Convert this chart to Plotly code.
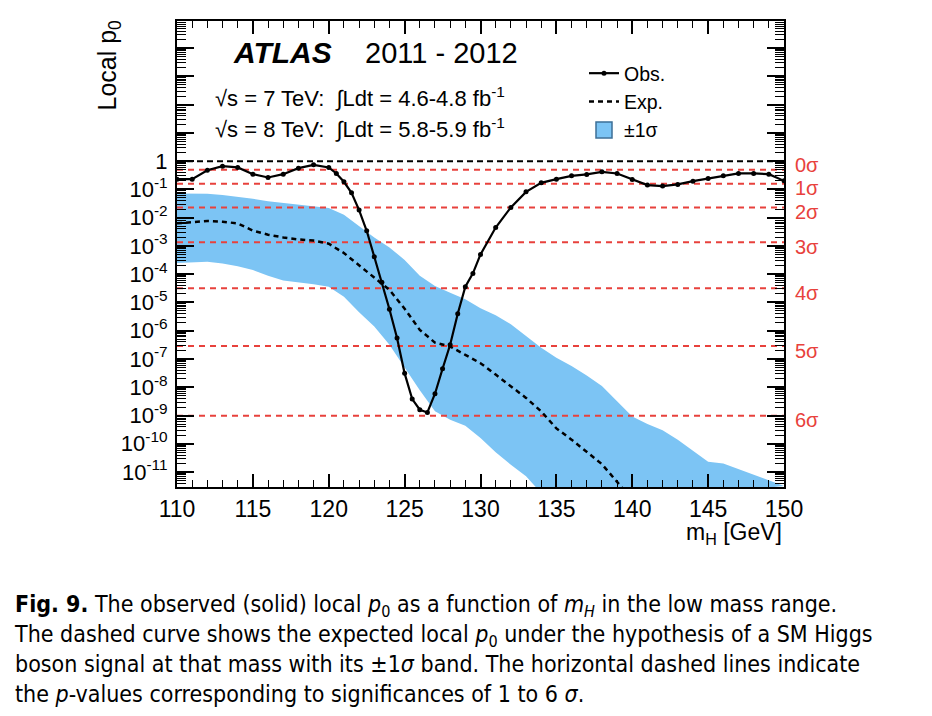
import math
import plotly.graph_objects as go

# ---------------- data ----------------
mass_obs = [110, 111, 112, 113, 114, 115, 116, 117, 118, 119, 120,
            120.5, 121, 121.5, 122, 122.5, 123, 123.5, 124, 124.5, 125,
            125.5, 126, 126.5, 127, 127.5, 128, 128.5, 129, 129.5, 130,
            131, 132, 133, 134, 135, 136, 137, 138, 139, 140,
            141, 142, 143, 144, 145, 146, 147, 148, 149, 150]
p_obs = [0.231, 0.231, 0.48, 0.665, 0.60, 0.347, 0.265, 0.347, 0.566, 0.74, 0.60,
         0.367, 0.186, 0.0758, 0.0186, 3.44e-3, 4.15e-4, 5.16e-5, 5.75e-6, 5.57e-7, 3.1e-8,
         3.8e-9, 1.6e-9, 1.28e-9, 5.9e-9, 4.5e-8, 3.2e-7, 4.0e-6, 3.6e-5, 1.07e-4, 5.0e-4,
         4.5e-3, 0.0231, 0.082, 0.171, 0.231, 0.303, 0.339, 0.419, 0.367, 0.226,
         0.142, 0.131, 0.150, 0.196, 0.245, 0.303, 0.367, 0.367, 0.347, 0.201]

mass_exp = [110, 111, 112, 113, 114, 115, 116, 117, 118, 119, 120,
            121, 122, 123, 124, 125, 126, 127, 128, 129, 130,
            131, 132, 133, 134, 135, 136, 137, 138, 139, 140]
p_exp = [6.3e-3, 7.1e-3, 7.6e-3, 7.2e-3, 6.3e-3, 3.5e-3, 2.5e-3, 2.0e-3, 1.7e-3, 1.55e-3, 1.2e-3,
         5.6e-4, 2.1e-4, 7.9e-5, 2.8e-5, 6.0e-6, 1.07e-6, 3.8e-7, 2.75e-7, 1.4e-7, 7.1e-8,
         2.8e-8, 1.05e-8, 4.2e-9, 1.4e-9, 3.5e-10, 1.4e-10, 5.0e-11, 1.9e-11, 4.5e-12, 1.0e-12]

mass_band_hi = [110, 111, 112, 113, 114, 115, 116, 117, 118, 119, 120,
                121, 122, 123, 124, 125, 126, 127, 128, 129, 130,
                131, 132, 133, 134, 135, 136, 137, 138, 139, 140,
                141, 142, 143, 144, 145, 146, 147, 148, 149, 150]
p_band_hi = [0.072, 0.072, 0.071, 0.063, 0.055, 0.047, 0.038, 0.033, 0.030, 0.026, 0.022,
             0.0126, 5.0e-3, 2.0e-3, 8.9e-4, 3.2e-4, 8.9e-5, 3.8e-5, 2.2e-5, 1.3e-5, 6.3e-6,
             3.5e-6, 1.7e-6, 6.3e-7, 2.5e-7, 1.1e-7, 5.6e-8, 2.6e-8, 1.1e-8, 3.2e-9, 9.3e-10,
             5.0e-10, 3.0e-10, 1.4e-10, 5.6e-11, 2.3e-11, 2.0e-11, 1.26e-11, 7.9e-12, 5.0e-12, 3.2e-12]

mass_band_lo = [110, 111, 112, 113, 114, 115, 116, 117, 118, 119, 120,
                121, 122, 123, 124, 125, 126, 127, 128, 129, 130,
                131, 132, 133, 134, 135]
p_band_lo = [2.5e-4, 2.6e-4, 2.75e-4, 2.4e-4, 1.9e-4, 1.4e-4, 8.9e-5, 6.0e-5, 5.0e-5, 4.4e-5, 3.6e-5,
             1.6e-5, 4.5e-6, 1.4e-6, 3.2e-7, 5.0e-8, 7.9e-9, 1.4e-9, 7.1e-10, 4.3e-10, 1.6e-10,
             5.0e-11, 1.8e-11, 7.1e-12, 1.8e-12, 5.0e-13]

sigma_labels = ["0σ", "1σ", "2σ", "3σ", "4σ", "5σ", "6σ"]
sigma_p = [0.5, 0.1587, 0.02275, 1.35e-3, 3.17e-5, 2.87e-7, 9.87e-10]
sigma_label_shift = [5, -4, -4, -5, -5, -5, -4]

ytick_exp = [4, 3, 2, 1, 0, -1, -2, -3, -4, -5, -6, -7, -8, -9, -10, -11]
xtick_vals = [110, 115, 120, 125, 130, 135, 140, 145, 150]

caption_lines = [
    "<b>Fig. 9.</b> The observed (solid) local <i>p</i><sub>0</sub> as a function of <i>m<sub>H</sub></i> in the low mass range.",
    "The dashed curve shows the expected local <i>p</i><sub>0</sub> under the hypothesis of a SM Higgs",
    "boson signal at that mass with its ±1<i>σ</i> band. The horizontal dashed lines indicate",
    "the <i>p</i>-values corresponding to significances of 1 to 6 <i>σ</i>.",
]

# ---------------- style ----------------
FONT = "Liberation Sans, Arial, Helvetica, sans-serif"
CAPFONT = "Liberation Sans Narrow, DejaVu Sans Condensed, Liberation Sans, sans-serif"
BAND = "#7cc4f4"
RED = "#e8413c"
W, H = 932, 716
ML, MR, MT, MB = 177, 148, 21, 229
PW, PH = W - ML - MR, H - MT - MB


def px_x(px):
    return (px - ML) / PW


def px_y(py):
    return (H - MB - py) / PH


fig = go.Figure()

# band polygon
fig.add_trace(go.Scatter(
    x=mass_band_hi + mass_band_lo[::-1],
    y=p_band_hi + p_band_lo[::-1],
    fill="toself", fillcolor=BAND, mode="lines",
    line=dict(width=0, color=BAND), hoverinfo="skip", showlegend=False))

# p=1 line (black dashed) and sigma lines (red dashed)
fig.add_trace(go.Scatter(x=[110, 150], y=[1, 1], mode="lines",
                         line=dict(color="black", width=2, dash="6px,4px"),
                         showlegend=False, hoverinfo="skip"))
for p in sigma_p:
    fig.add_trace(go.Scatter(x=[110, 150], y=[p, p], mode="lines",
                             line=dict(color=RED, width=2, dash="6px,5px"),
                             showlegend=False, hoverinfo="skip"))

fig.add_trace(go.Scatter(x=mass_exp, y=p_exp, mode="lines", name="Exp.",
                         line=dict(color="black", width=2.5, dash="5px,4px"),
                         legendrank=2))
fig.add_trace(go.Scatter(x=mass_obs, y=p_obs, mode="lines+markers", name="Obs.",
                         line=dict(color="black", width=2.2),
                         marker=dict(color="black", size=5),
                         legendrank=1))
fig.add_trace(go.Scatter(x=[None], y=[None], mode="markers", name="±1σ",
                         marker=dict(symbol="square", size=16, color=BAND,
                                     line=dict(color="#3d6f96", width=1.5)),
                         legendrank=3))

minor_vals = [k * 10.0 ** e for e in range(-12, 5) for k in range(2, 10)]

fig.update_xaxes(
    range=[110, 150], tickmode="array", tickvals=xtick_vals,
    ticks="inside", ticklen=13, tickwidth=1.5, tickcolor="black",
    minor=dict(ticks="inside", ticklen=7, tickwidth=1.2, tickcolor="black", dtick=1, tick0=110),
    showline=True, linecolor="black", linewidth=2, mirror="allticks",
    showgrid=False, zeroline=False,
    tickfont=dict(family=FONT, size=23, color="black"),
)
fig.update_yaxes(
    type="log", range=[-11.53, 4.96], tickmode="array",
    tickvals=[10.0 ** e for e in ytick_exp],
    ticktext=["" if e > 0 else ("1" if e == 0 else "10<sup>%d</sup>" % e) for e in ytick_exp],
    ticks="inside", ticklen=17, tickwidth=1.5, tickcolor="black",
    minor=dict(ticks="inside", ticklen=9, tickwidth=1.2, tickcolor="black",
               tickmode="array", tickvals=minor_vals),
    showline=True, linecolor="black", linewidth=2, mirror="allticks",
    showgrid=False, zeroline=False, ticklabelstandoff=3,
    tickfont=dict(family=FONT, size=22, color="black"),
)

ann = []
ann.append(dict(text="<b><i>ATLAS</i></b>", x=px_x(231), y=px_y(52), xref="paper", yref="paper",
                xanchor="left", yanchor="middle", showarrow=False,
                font=dict(family=FONT, size=30, color="black")))
ann.append(dict(text="2011 - 2012", x=px_x(363), y=px_y(53), xref="paper", yref="paper",
                xanchor="left", yanchor="middle", showarrow=False,
                font=dict(family=FONT, size=29, color="black")))
ann.append(dict(text="√s = 7 TeV:  ∫Ldt = 4.6-4.8 fb<sup>-1</sup>", x=px_x(213), y=px_y(97),
                xref="paper", yref="paper", xanchor="left", yanchor="middle", showarrow=False,
                font=dict(family=FONT, size=22, color="black")))
ann.append(dict(text="√s = 8 TeV:  ∫Ldt = 5.8-5.9 fb<sup>-1</sup>", x=px_x(213), y=px_y(128),
                xref="paper", yref="paper", xanchor="left", yanchor="middle", showarrow=False,
                font=dict(family=FONT, size=22, color="black")))
ann.append(dict(text="Local p<sub>0</sub>", x=px_x(108), y=px_y(18), xref="paper", yref="paper",
                xanchor="center", yanchor="top", textangle=-90, showarrow=False,
                font=dict(family=FONT, size=25, color="black")))
ann.append(dict(text="m<sub>H</sub> [GeV]", x=px_x(784), y=px_y(533), xref="paper", yref="paper",
                xanchor="right", yanchor="middle", showarrow=False,
                font=dict(family=FONT, size=23, color="black")))
for lab, p, sh in zip(sigma_labels, sigma_p, sigma_label_shift):
    ann.append(dict(text=lab, x=px_x(793), y=math.log10(p), xref="paper", yref="y",
                    xanchor="left", yanchor="middle", yshift=sh, showarrow=False,
                    font=dict(family=FONT, size=20, color=RED)))
ann.append(dict(text="<br>".join(caption_lines), x=px_x(12), y=px_y(589), xref="paper", yref="paper",
                xanchor="left", yanchor="top", align="left", showarrow=False,
                font=dict(family=CAPFONT, size=23, color="black")))

fig.update_layout(
    width=W, height=H, margin=dict(l=ML, r=MR, t=MT, b=MB),
    paper_bgcolor="white", plot_bgcolor="white",
    annotations=ann,
    legend=dict(x=px_x(584), y=px_y(54), xanchor="left", yanchor="top",
                bgcolor="rgba(0,0,0,0)", font=dict(family=FONT, size=19.5, color="black"),
                itemwidth=30, tracegroupgap=0),
)

fig.write_html("out.html", config={"displayModeBar": False},
               post_script="document.body.style.margin='0';document.body.style.padding='0';")
